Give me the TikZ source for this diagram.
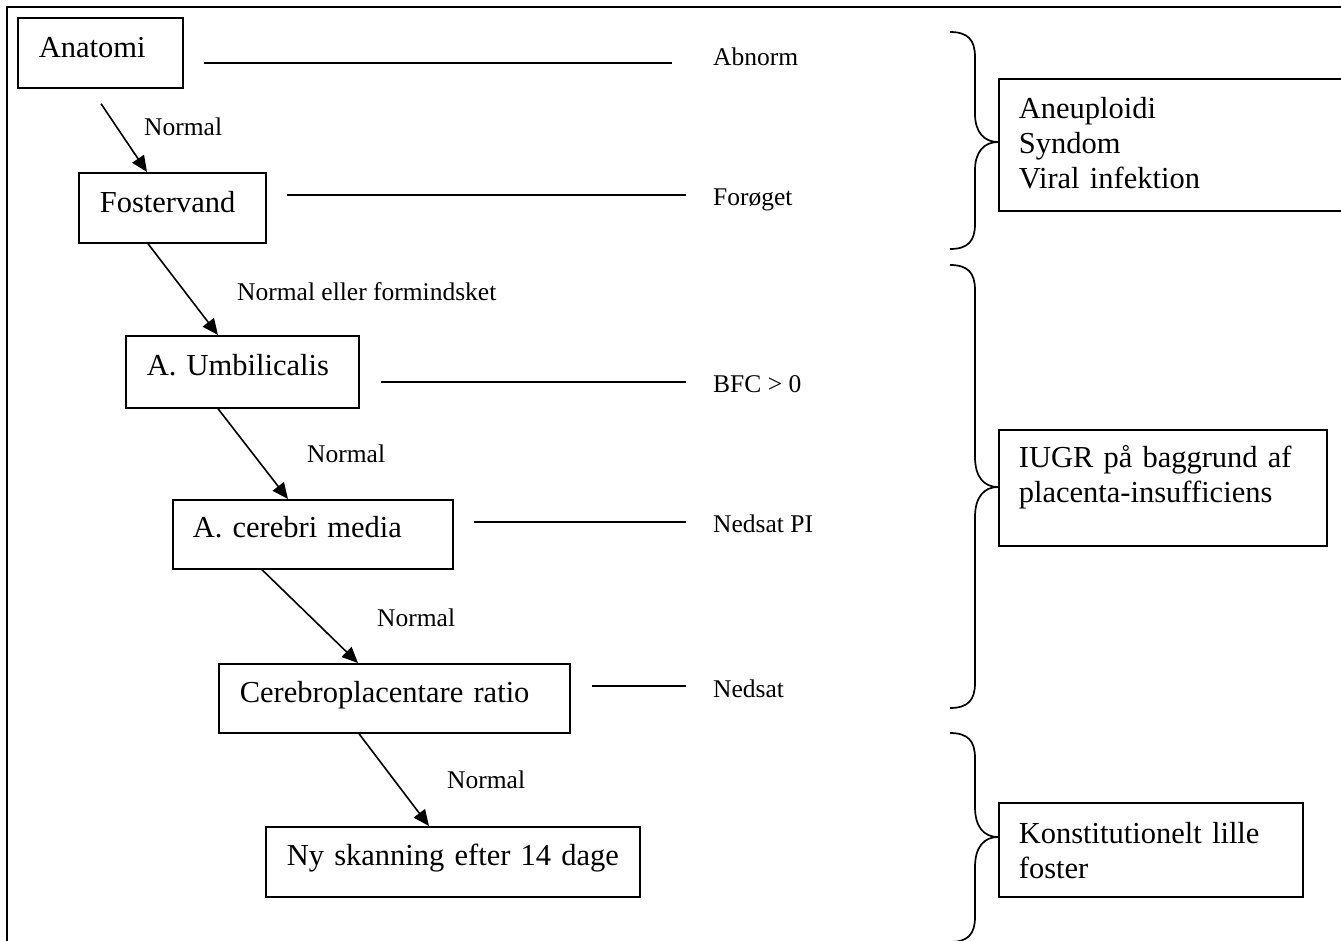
\documentclass[tikz,border=0pt]{standalone}
\usepackage{fontspec}
\setmainfont{Liberation Serif}
\usetikzlibrary{arrows.meta}
\tikzset{
  bigfont/.style={font=\fontsize{30.5}{35}\selectfont},
  smallfont/.style={font=\fontsize{25.5}{30}\selectfont},
  box/.style={draw, line width=1.7pt, inner sep=0pt, anchor=north west, bigfont},
  pad/.style={execute at begin node={\raggedright\leftskip=#1\relax}},
  lbl/.style={anchor=base west, inner sep=0pt, smallfont},
  conn/.style={line width=1.6pt},
  arr/.style={line width=1.6pt, -{Triangle[length=16pt,width=14pt]}},
  brace/.style={line width=1.7pt},
}
\begin{document}
\begin{tikzpicture}[x=1pt,y=-1pt]
\useasboundingbox (0,0) rectangle (1341,940);
% outer frame
\draw[line width=1.7pt] (1350,7) -- (7,7) -- (7,950);

% boxes
\node[box, pad=21pt, text width=165pt, text height=40pt, text depth=30pt] (anat) at (17,17) {Anatomi};
\node[box, pad=21pt, text width=187pt, text height=40pt, text depth=30pt] (fost) at (78,172) {Fostervand};
\node[box, pad=21pt, text width=233pt, text height=40pt, text depth=32pt] (umb) at (125,335) {A. Umbilicalis};
\node[box, pad=20pt, text width=280pt, text height=38pt, text depth=31pt] (cer) at (172,499) {A. cerebri media};
\node[box, pad=21pt, text width=351pt, text height=39pt, text depth=30pt] (cpr) at (218,663) {Cerebroplacentare ratio};
\node[box, pad=21pt, text width=374pt, text height=39pt, text depth=31pt] (ny) at (265,826) {Ny skanning efter 14 dage};

\node[box, pad=20pt, text width=362pt, text height=40pt, text depth=92pt] (aneu) at (998,78) {Aneuploidi\\Syndom\\Viral infektion};
\node[box, pad=20pt, text width=328pt, text height=38pt, text depth=78pt] (iugr) at (998,429) {IUGR på baggrund af\\placenta-insufficiens};
\node[box, pad=20pt, text width=304pt, text height=41pt, text depth=53pt] (konst) at (998,802) {Konstitutionelt lille\\foster};

% labels on the right
\node[lbl] (abn) at (713,65) {Abnorm};
\node[lbl] (for) at (713,205) {Forøget};
\node[lbl] (bfc) at (713,392) {BFC > 0};
\node[lbl] (npi) at (713,532) {Nedsat PI};
\node[lbl] (ned) at (713,697) {Nedsat};

% arrow labels
\node[lbl] (n1) at (144,135) {Normal};
\node[lbl] (n2) at (237,300) {Normal eller formindsket};
\node[lbl] (n3) at (307,462) {Normal};
\node[lbl] (n4) at (377,626) {Normal};
\node[lbl] (n5) at (447,788) {Normal};

% horizontal lines
\coordinate (l1a) at (204,63);  \coordinate (l1b) at (672,63);
\coordinate (l2a) at (287,195); \coordinate (l2b) at (686,195);
\coordinate (l3a) at (381,382); \coordinate (l3b) at (686,382);
\coordinate (l4a) at (474,522); \coordinate (l4b) at (686,522);
\coordinate (l5a) at (592,686); \coordinate (l5b) at (686,686);
\draw[conn] (l1a) -- (l1b);
\draw[conn] (l2a) -- (l2b);
\draw[conn] (l3a) -- (l3b);
\draw[conn] (l4a) -- (l4b);
\draw[conn] (l5a) -- (l5b);

% arrows
\draw[arr] ([xshift=84pt,yshift=-15pt]anat.south west) -- ([xshift=69pt]fost.north west);
\draw[arr] ([xshift=70pt]fost.south west) -- ([xshift=93pt]umb.north west);
\draw[arr] ([xshift=93pt]umb.south west) -- ([xshift=116pt]cer.north west);
\draw[arr] ([xshift=90pt]cer.south west) -- ([xshift=140pt]cpr.north west);
\draw[arr] ([xshift=141pt]cpr.south west) -- ([xshift=164pt]ny.north west);

% braces
\draw[brace] (950,32) .. controls (968,32) and (975,40) .. (975,57) -- (975,114)
  .. controls (975,132) and (984,142) .. (998,142)
  .. controls (984,142) and (975,152) .. (975,170) -- (975,224)
  .. controls (975,241) and (968,249) .. (950,249);
\draw[brace] (950,265) .. controls (968,265) and (975,273) .. (975,290) -- (975,457)
  .. controls (975,477) and (984,487) .. (998,487)
  .. controls (984,487) and (975,497) .. (975,517) -- (975,683)
  .. controls (975,700) and (968,708) .. (950,708);
\draw[brace] (950,733) .. controls (968,733) and (975,741) .. (975,758) -- (975,807)
  .. controls (975,827) and (984,837) .. (998,837)
  .. controls (984,837) and (975,847) .. (975,867) -- (975,917)
  .. controls (975,934) and (968,942) .. (950,942);
\end{tikzpicture}
\end{document}
